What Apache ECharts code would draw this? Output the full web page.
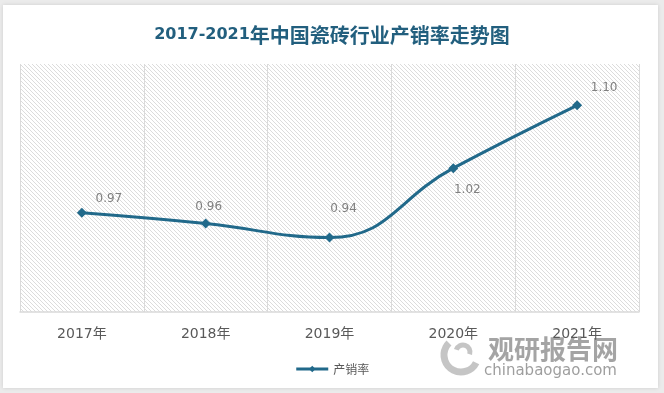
<!DOCTYPE html>
<html>
<head>
<meta charset="utf-8">
<script src="https://cdn.jsdelivr.net/npm/echarts@6/dist/echarts.min.js"></script>
<style>
html,body{margin:0;padding:0;background:#ebebeb;}
#chart{width:664px;height:393px;}
</style>
</head>
<body>
<div id="chart"></div>
<script>
// ---- data ----
var titleYears = '2017-2021';
var titleRest = '年中国瓷砖行业产销率走势图';
var categories = ['2017年', '2018年', '2019年', '2020年', '2021年'];
var seriesName = '产销率';
var values = [0.97, 0.957, 0.94, 1.024, 1.10];

// label offsets (styling only)
var labelOffsets = [[27, -14], [3, -17], [14, -29], [14, 22], [27, -17]];

// hatch pattern for the plot background
var tile = document.createElement('canvas');
tile.width = 4; tile.height = 4;
var tctx = tile.getContext('2d');
tctx.fillStyle = '#ffffff';
tctx.fillRect(0, 0, 4, 4);
tctx.fillStyle = '#dcdcdc';
for (var i = 0; i < 4; i++) { tctx.fillRect(i, i, 1, 1); }

var chart = echarts.init(document.getElementById('chart'), null, {renderer: 'canvas'});

var seriesData = values.map(function (v, i) {
  return {
    value: v,
    label: {offset: labelOffsets[i], position: 'inside'}
  };
});

var option = {
  backgroundColor: '#ebebeb',
  animation: false,
  graphic: [
    {
      type: 'rect', z: -10, silent: true,
      shape: {x: 3, y: 5, width: 655, height: 383},
      style: {fill: '#ffffff', shadowBlur: 4, shadowColor: 'rgba(0,0,0,0.12)'}
    },
    {
      type: 'group', z: 100, silent: true,
      children: [
        {
          type: 'arc', shape: {cx: 461, cy: 355, r: 17, startAngle: Math.PI * 0.15, endAngle: Math.PI * 1.25},
          style: {stroke: 'rgba(150,150,150,0.55)', lineWidth: 7, fill: null}
        },
        {
          type: 'arc', shape: {cx: 463, cy: 352, r: 7, startAngle: Math.PI * 1.1, endAngle: Math.PI * 2.1},
          style: {stroke: 'rgba(150,150,150,0.55)', lineWidth: 5, fill: null}
        },
        {
          type: 'text', left: 488, top: 336,
          style: {text: '观研报告网', font: 'bold 26px "Noto Sans CJK SC"', fill: 'rgba(125,125,125,0.7)'}
        },
        {
          type: 'text', left: 484, top: 364,
          style: {text: 'chinabaogao.com', font: '15px "DejaVu Sans"', fill: 'rgba(125,125,125,0.75)'}
        }
      ]
    }
  ],
  title: {
    text: '{a|' + titleYears + '}{b|' + titleRest + '}',
    left: 'center',
    top: 20,
    textStyle: {
      rich: {
        a: {color: '#225f7e', fontSize: 16, fontWeight: 'bold', fontFamily: '"DejaVu Sans"'},
        b: {color: '#225f7e', fontSize: 20, fontWeight: 'bold', fontFamily: '"Noto Sans CJK SC"'}
      }
    }
  },
  legend: {
    data: [seriesName],
    left: 'center',
    top: 358,
    itemWidth: 32,
    itemHeight: 8,
    itemGap: 10,
    lineStyle: {width: 3},
    textStyle: {color: '#595959', fontSize: 12, fontFamily: '"Noto Sans CJK SC"'}
  },
  grid: {
    left: 20, right: 25, top: 64, bottom: 81,
    show: true,
    borderWidth: 0,
    backgroundColor: {image: tile, repeat: 'repeat'}
  },
  xAxis: {
    type: 'category',
    data: categories,
    boundaryGap: true,
    axisLine: {lineStyle: {color: '#d9d9d9', width: 1.5}},
    axisTick: {show: false},
    splitLine: {show: true, lineStyle: {color: '#dadada', width: 1}},
    axisLabel: {
      color: '#595959', fontSize: 14, margin: 15,
      fontFamily: '"DejaVu Sans", "Noto Sans CJK SC"'
    }
  },
  yAxis: {
    type: 'value',
    min: 0.85, max: 1.15,
    show: false,
    splitLine: {show: false}
  },
  series: [{
    name: seriesName,
    type: 'line',
    data: seriesData,
    smooth: 0.45,
    symbol: 'diamond',
    symbolSize: 10,
    lineStyle: {color: '#21698a', width: 3},
    itemStyle: {color: '#21698a'},
    label: {
      show: true,
      color: '#808080',
      fontSize: 12,
      fontFamily: '"DejaVu Sans"',
      formatter: function (p) { return p.value.toFixed(2); }
    }
  }]
};
chart.setOption(option);
</script>
</body>
</html>
